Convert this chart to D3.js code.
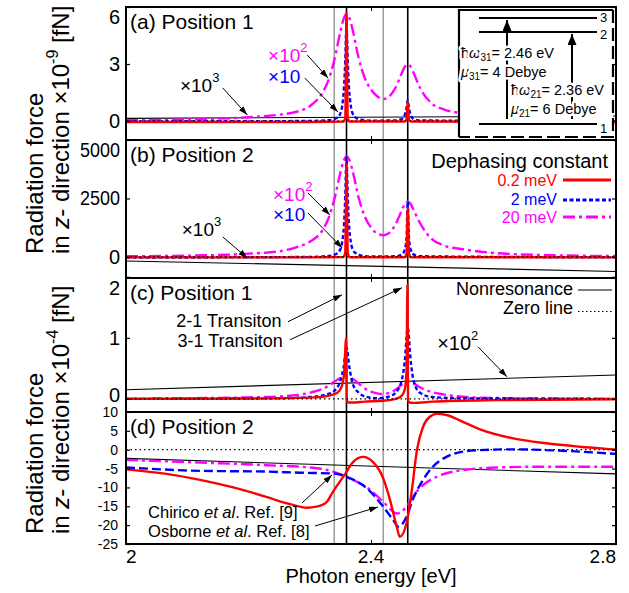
<!DOCTYPE html>
<html><head><meta charset="utf-8">
<script src="https://cdn.jsdelivr.net/npm/d3@7/dist/d3.min.js"></script>
<style>
body{margin:0;background:#fff}
text{font-family:"Liberation Sans",Arial,Helvetica,sans-serif;fill:#000}
</style></head>
<body><svg id="c" width="629" height="593"></svg>
<script>
// ---------- data ----------
const energyTicks = [2, 2.4, 2.8];
const transitionLines = [2.36, 2.46];
const grayLines = [2.34, 2.42];

// panel (a) Position 1  (x1e-9 fN)
const aTicks = [0, 3, 6];
const aRed = [[2.0,-0.05],[2.3,-0.05],[2.355,-0.03],[2.358,0.15],[2.36,5.7],[2.362,0.15],[2.365,-0.03],[2.455,-0.03],[2.458,0.1],[2.46,1.0],[2.462,0.1],[2.465,-0.03],[2.8,-0.05]];
const aBlue = [[2.0,-0.02],[2.3,0.0],[2.33,0.04],[2.34,0.1],[2.345,0.18],[2.35,0.4],[2.353,0.8],[2.356,1.8],[2.358,3.2],[2.36,5.0],[2.362,3.2],[2.364,1.8],[2.367,0.8],[2.37,0.4],[2.375,0.18],[2.38,0.1],[2.40,0.02],[2.44,0.03],[2.45,0.1],[2.455,0.3],[2.458,0.7],[2.46,1.1],[2.462,0.7],[2.465,0.3],[2.47,0.1],[2.48,0.03],[2.8,-0.02]];
const aMagenta = [[2.0,0.04],[2.1,0.08],[2.2,0.2],[2.25,0.33],[2.28,0.5],[2.30,0.78],[2.32,1.45],[2.33,2.1],[2.34,3.2],[2.35,4.7],[2.355,5.35],[2.36,5.65],[2.365,5.4],[2.37,4.8],[2.38,3.3],[2.39,2.25],[2.40,1.65],[2.41,1.3],[2.42,1.15],[2.43,1.3],[2.44,1.75],[2.45,2.5],[2.455,2.85],[2.46,2.98],[2.465,2.85],[2.47,2.5],[2.48,1.75],[2.50,0.9],[2.52,0.6],[2.55,0.4],[2.6,0.2],[2.7,0.08],[2.8,0.04]];
const aNonres = [[2.0,0.14],[2.8,0.26]];

// panel (b) Position 2
const bTicks = [0, 2500, 5000];
const bRed = [[2.0,-20],[2.3,-20],[2.355,0],[2.358,200],[2.36,4000],[2.362,200],[2.365,-10],[2.455,-10],[2.458,150],[2.46,2100],[2.462,150],[2.465,-10],[2.8,-20]];
const bBlue = [[2.0,-30],[2.3,0],[2.33,40],[2.34,90],[2.345,160],[2.35,330],[2.353,650],[2.356,1400],[2.358,2600],[2.36,4250],[2.362,2600],[2.364,1400],[2.367,650],[2.37,330],[2.375,160],[2.38,90],[2.40,20],[2.44,30],[2.45,100],[2.455,300],[2.458,800],[2.46,2350],[2.462,800],[2.465,300],[2.47,100],[2.48,30],[2.8,-20]];
const bMagenta = [[2.0,30],[2.1,55],[2.2,140],[2.25,240],[2.28,430],[2.30,650],[2.32,1110],[2.33,1610],[2.34,2450],[2.35,3600],[2.355,4090],[2.36,4300],[2.365,4130],[2.37,3670],[2.38,2520],[2.39,1720],[2.40,1260],[2.41,1000],[2.42,930],[2.43,1030],[2.44,1390],[2.45,1980],[2.455,2260],[2.46,2360],[2.465,2260],[2.47,1980],[2.48,1450],[2.50,750],[2.52,480],[2.55,330],[2.6,170],[2.7,70],[2.8,40]];
const bNonres = [[2.0,-170],[2.8,-620]];

// panel (c) Position 1  (x1e-4 fN)
const cTicks = [0, 1, 2];
const cRed = [[2.0,0.0],[2.2,0.005],[2.3,0.02],[2.33,0.05],[2.345,0.1],[2.352,0.2],[2.356,0.4],[2.3595,1.0],[2.3605,-0.02],[2.363,-0.06],[2.37,-0.06],[2.39,-0.045],[2.42,-0.03],[2.44,0.0],[2.45,0.05],[2.455,0.15],[2.458,0.45],[2.4595,1.87],[2.4605,-0.02],[2.463,-0.06],[2.47,-0.065],[2.5,-0.045],[2.6,-0.02],[2.8,-0.005]];
const cBlue = [[2.0,0.0],[2.25,0.01],[2.3,0.03],[2.33,0.08],[2.34,0.13],[2.35,0.3],[2.355,0.5],[2.36,0.84],[2.365,0.5],[2.37,0.25],[2.38,0.1],[2.39,0.04],[2.41,0.01],[2.43,0.04],[2.44,0.1],[2.45,0.3],[2.455,0.6],[2.46,1.16],[2.465,0.6],[2.47,0.28],[2.48,0.1],[2.5,0.03],[2.55,0.01],[2.8,0.0]];
const cMagenta = [[2.0,0.0],[2.1,0.01],[2.2,0.025],[2.25,0.04],[2.28,0.065],[2.30,0.1],[2.32,0.16],[2.33,0.21],[2.34,0.28],[2.35,0.34],[2.36,0.36],[2.37,0.33],[2.38,0.25],[2.39,0.17],[2.40,0.12],[2.41,0.09],[2.42,0.08],[2.43,0.1],[2.44,0.15],[2.45,0.23],[2.46,0.27],[2.47,0.25],[2.48,0.19],[2.50,0.11],[2.52,0.07],[2.55,0.035],[2.6,0.015],[2.7,0.005],[2.8,0.0]];
const cNonres = [[2.0,0.15],[2.8,0.39]];

// panel (d) Position 2
const dTicks = [-25, -20, -15, -10, -5, 0, 5, 10];
const dRed = [[2.0,-5.2],[2.066,-6.4],[2.121,-8.0],[2.175,-10.0],[2.229,-12.5],[2.262,-14.2],[2.284,-15.1],[2.295,-15.4],[2.311,-15.1],[2.328,-13.8],[2.338,-11.1],[2.349,-8.5],[2.358,-6.4],[2.371,-3.2],[2.387,-1.9],[2.403,-3.2],[2.42,-7.6],[2.431,-13.3],[2.442,-20.4],[2.447,-23.1],[2.458,-19.5],[2.466,-11.6],[2.475,-0.1],[2.485,6.1],[2.496,8.75],[2.507,9.5],[2.523,9.2],[2.55,7.4],[2.578,5.4],[2.632,3.0],[2.686,1.7],[2.741,0.8],[2.796,0.1],[2.8,0.05]];
const dBlue = [[2.0,-4.7],[2.121,-5.6],[2.229,-5.8],[2.284,-6.1],[2.338,-6.3],[2.366,-7.6],[2.393,-10.2],[2.42,-15.1],[2.436,-18.6],[2.445,-20.4],[2.458,-17.8],[2.468,-13.3],[2.485,-8.0],[2.501,-4.5],[2.523,-1.9],[2.55,-0.5],[2.578,-0.1],[2.632,0.1],[2.686,-0.1],[2.741,-0.5],[2.8,-1.1]];
const dMagenta = [[2.0,-2.7],[2.121,-3.4],[2.229,-4.1],[2.311,-4.9],[2.338,-5.8],[2.366,-7.6],[2.393,-10.0],[2.42,-13.8],[2.436,-16.4],[2.442,-16.9],[2.458,-15.1],[2.468,-12.5],[2.485,-9.4],[2.507,-7.2],[2.55,-5.4],[2.605,-4.7],[2.686,-4.5],[2.8,-4.5]];
const dNonres = [[2.0,-2.3],[2.8,-6.4]];

const zeroLine = [[2.0,0],[2.8,0]];
const dephasing = ["0.2 meV", "2 meV", "20 meV"];

// ---------- drawing ----------
const svg = d3.select("#c");
const L = 126, R = 616;
const x = d3.scaleLinear().domain([2, 2.8]).range([L, R]);
const defs = svg.append("defs");
function marker(id, w, h) {
  defs.append("marker").attr("id", id).attr("viewBox", "0 0 10 10")
    .attr("refX", 10).attr("refY", 5).attr("markerWidth", w).attr("markerHeight", h)
    .attr("markerUnits", "userSpaceOnUse").attr("orient", "auto")
    .attr("preserveAspectRatio", "none")
    .append("path").attr("d", "M0,0L10,5L0,10z").attr("fill", "#000");
}
marker("ah", 9, 6);
marker("ah2", 11, 9);

const RED = "#ff0000", BLUE = "#0000ff", MAG = "#ff00ff";
const panels = [
  {id:"a", top:7, bottom:140, domain:[-1,6], ticks:aTicks, label:"(a) Position 1", red:aRed, blue:aBlue, mag:aMagenta, nonres:aNonres, fs:20, pad:6, blueDash:"4,2.5"},
  {id:"b", top:140, bottom:278, domain:[-900,5000], ticks:bTicks, label:"(b) Position 2", red:bRed, blue:bBlue, mag:bMagenta, nonres:bNonres, fs:20, pad:6, blueDash:"4,2.5"},
  {id:"c", top:278, bottom:412, domain:[-0.215,1.98], ticks:cTicks, label:"(c) Position 1", red:cRed, blue:cBlue, mag:cMagenta, nonres:cNonres, fs:20, pad:6, blueDash:"4,2.5"},
  {id:"d", top:412, bottom:544, domain:[-25,10], ticks:dTicks, label:"(d) Position 2", red:dRed, blue:dBlue, mag:dMagenta, nonres:dNonres, fs:14, pad:8, blueDash:"9,4"}
];

panels.forEach(p => {
  p.y = d3.scaleLinear().domain(p.domain).range([p.bottom, p.top]);
  defs.append("clipPath").attr("id", "clip" + p.id).append("rect")
    .attr("x", L).attr("y", p.top).attr("width", R - L).attr("height", p.bottom - p.top);
});

// vertical guide lines
const vg = svg.append("g");
grayLines.forEach(e => vg.append("line").attr("x1", x(e)).attr("x2", x(e)).attr("y1", 7).attr("y2", 544)
  .attr("stroke", "#a0a0a0").attr("stroke-width", 1.6));
transitionLines.forEach(e => vg.append("line").attr("x1", x(e)).attr("x2", x(e)).attr("y1", 7).attr("y2", 544)
  .attr("stroke", "#000").attr("stroke-width", 1.6));

panels.forEach(p => {
  const g = svg.append("g").attr("clip-path", `url(#clip${p.id})`);
  const line = d3.line().x(d => x(d[0])).y(d => p.y(d[1])).curve(d3.curveMonotoneX);
  g.append("path").attr("d", line(p.nonres)).attr("fill", "none").attr("stroke", "#000").attr("stroke-width", 1.1);
  g.append("path").attr("d", line(p.mag)).attr("fill", "none").attr("stroke", MAG).attr("stroke-width", 2.4).attr("stroke-dasharray", "12,4,3,4");
  g.append("path").attr("d", line(p.blue)).attr("fill", "none").attr("stroke", BLUE).attr("stroke-width", 2.4).attr("stroke-dasharray", p.blueDash);
  g.append("path").attr("d", line(p.red)).attr("fill", "none").attr("stroke", RED).attr("stroke-width", 2.4);
  g.append("path").attr("d", line(zeroLine)).attr("fill", "none").attr("stroke", "#000").attr("stroke-width", 1.2).attr("stroke-dasharray", "1.5,3");

  // axes
  const ax = svg.append("g").attr("transform", `translate(${L},0)`)
    .call(d3.axisLeft(p.y).tickValues(p.ticks).tickSize(-4).tickPadding(p.pad).tickFormat(d3.format("d")));
  ax.select(".domain").remove();
  ax.selectAll("line").attr("stroke", "#000").attr("stroke-width", 1.2);
  ax.selectAll("text").attr("font-size", p.fs).attr("font-family", '"Liberation Sans",Arial,sans-serif')
    .text(d => d < 0 ? "-" + Math.abs(d) : d);
  if (p.id !== "d") {
    const maxT = d3.max(p.ticks);
    ax.selectAll(".tick").filter(d => d === maxT).select("text").attr("y", p.top + 10 - p.y(maxT));
    ax.selectAll(".tick").filter(d => d >= 1000).select("text").attr("textLength", 40).attr("lengthAdjust", "spacingAndGlyphs");
  }
  if (p.id === "c") ax.selectAll(".tick").filter(d => d === 0).select("text").attr("y", -4);
  const axr = svg.append("g").attr("transform", `translate(${R},0)`)
    .call(d3.axisRight(p.y).tickValues(p.ticks).tickSize(-4).tickFormat(""));
  axr.select(".domain").remove();
  axr.selectAll("line").attr("stroke", "#000").attr("stroke-width", 1.2);
  const axt = svg.append("g").attr("transform", `translate(0,${p.top})`)
    .call(d3.axisTop(x).tickValues([2.4]).tickSize(-4).tickFormat(""));
  axt.select(".domain").remove();
  const axb = svg.append("g").attr("transform", `translate(0,${p.bottom})`)
    .call(d3.axisBottom(x).tickValues([2.4]).tickSize(-4).tickFormat(""));
  axb.select(".domain").remove();

  svg.append("text").attr("x", 130).attr("y", p.top + 22).attr("font-size", 21).text(p.label);
  // separators
  svg.append("line").attr("x1", L).attr("x2", R).attr("y1", p.bottom).attr("y2", p.bottom).attr("stroke", "#000").attr("stroke-width", 2);
});

// outer frame
svg.append("rect").attr("x", L).attr("y", 7).attr("width", R - L).attr("height", 544 - 7)
  .attr("fill", "none").attr("stroke", "#000").attr("stroke-width", 2);

// bottom x labels
const xl = svg.append("g");
energyTicks.forEach((e, i) => {
  xl.append("text").attr("x", x(e)).attr("y", 563).attr("font-size", 19)
    .attr("text-anchor", i === 0 ? "start" : (i === energyTicks.length - 1 ? "end" : "middle"))
    .text(e === 2 ? "2" : e.toFixed(1));
});
svg.append("text").attr("x", 371).attr("y", 583).attr("font-size", 20).attr("text-anchor", "middle").text("Photon energy [eV]");

// y titles
function ytitle(yStart, exp) {
  svg.append("text").attr("transform", `translate(43,${yStart}) rotate(-90)`).attr("font-size", 24).text("Radiation force");
  const t = svg.append("text").attr("transform", `translate(69,${yStart}) rotate(-90)`).attr("font-size", 24);
  t.append("tspan").text("in ");
  t.append("tspan").attr("font-style", "italic").text("z");
  t.append("tspan").text("- direction ×10");
  t.append("tspan").attr("font-size", 16).attr("dy", -11).text(exp);
  t.append("tspan").attr("dy", 11).text(" [fN]");
}
ytitle(254, "-9");
ytitle(534, "-4");

// annotation helpers (data coordinates)
function arrow(p, e1, v1, e2, v2, id) {
  svg.append("line").attr("x1", x(e1)).attr("y1", p.y(v1)).attr("x2", x(e2)).attr("y2", p.y(v2))
    .attr("stroke", "#000").attr("stroke-width", 1).attr("marker-end", `url(#${id || "ah"})`);
}
function times(p, e, v, color, base, exp, fs) {
  const t = svg.append("text").attr("x", x(e)).attr("y", p.y(v)).attr("font-size", fs || 19).style("fill", color);
  t.append("tspan").text("×" + base);
  if (exp) t.append("tspan").attr("font-size", 13).attr("dy", -10).text(exp);
}
const [pa, pb, pc, pd] = panels;
// (a)
times(pa, 2.232, 3.1, MAG, "10", "2");
times(pa, 2.232, 2.0, BLUE, "10", null);
times(pa, 2.088, 1.53, "#000", "10", "3");
arrow(pa, 2.296, 3.47, 2.330, 2.26);
arrow(pa, 2.292, 2.26, 2.346, 0.47);
arrow(pa, 2.158, 1.74, 2.198, 0.32);
// (b)
times(pb, 2.24, 2394, MAG, "10", "2");
times(pb, 2.24, 1539, BLUE, "10", null);
times(pb, 2.091, 898, "#000", "10", "3");
arrow(pb, 2.297, 2736, 2.333, 1796);
arrow(pb, 2.297, 1881, 2.353, 385);
arrow(pb, 2.158, 855, 2.198, -43);
// legend (b)
svg.append("text").attr("x", 608).attr("y", 168).attr("font-size", 20).attr("text-anchor", "end").text("Dephasing constant");
const legStyles = [[RED, null, 186, 180], [BLUE, "4,2.5", 204.5, 200], [MAG, "12,4,3,4", 223, 217]];
legStyles.forEach((s, i) => {
  svg.append("text").attr("x", 557).attr("y", s[2]).attr("font-size", 16).attr("text-anchor", "end").style("fill", s[0]).text(dephasing[i]);
  const l = svg.append("line").attr("x1", 563).attr("x2", 611).attr("y1", s[3]).attr("y2", s[3]).attr("stroke", s[0]).attr("stroke-width", 3);
  if (s[1]) l.attr("stroke-dasharray", s[1]);
});
// (c)
svg.append("text").attr("x", x(2.168)).attr("y", pc.y(1.18)).attr("font-size", 18).attr("text-anchor", "middle").text("2-1 Transiton");
svg.append("text").attr("x", x(2.170)).attr("y", pc.y(0.853)).attr("font-size", 18).attr("text-anchor", "middle").text("3-1 Transiton");
arrow(pc, 2.2645, 1.263, 2.3527, 1.705);
arrow(pc, 2.2678, 0.968, 2.4506, 1.82);
times(pc, 2.508, 0.80, "#000", "10", "2", 20);
arrow(pc, 2.5747, 0.853, 2.622, 0.362);
svg.append("text").attr("x", 573).attr("y", 295).attr("font-size", 18).attr("text-anchor", "end").text("Nonresonance");
svg.append("line").attr("x1", 578).attr("x2", 612).attr("y1", 290).attr("y2", 290).attr("stroke", "#000").attr("stroke-width", 1.1);
svg.append("text").attr("x", 573).attr("y", 314).attr("font-size", 18).attr("text-anchor", "end").text("Zero line");
svg.append("line").attr("x1", 578).attr("x2", 612).attr("y1", 311.5).attr("y2", 311.5).attr("stroke", "#000").attr("stroke-width", 1.2).attr("stroke-dasharray", "1.5,2.5");
// (d)
function refText(e, v, name, ref) {
  const t = svg.append("text").attr("x", x(e)).attr("y", pd.y(v)).attr("font-size", 16.5);
  t.append("tspan").text(name + " ");
  t.append("tspan").attr("font-style", "italic").text("et al");
  t.append("tspan").text(". Ref. " + ref);
}
refText(2.036, -18.2, "Chirico", "[9]");
refText(2.036, -23.2, "Osborne", "[8]");
arrow(pd, 2.2873, -14.13, 2.3363, -6.71);
arrow(pd, 2.3086, -20.23, 2.4114, -15.19);

// ---------- inset (energy level diagram) ----------
const ins = svg.append("g");
ins.append("rect").attr("x", 459).attr("y", 10).attr("width", 154).attr("height", 127).attr("fill", "#fff");
ins.append("path").attr("d", "M459,137V10H613").attr("fill", "none").attr("stroke", "#000").attr("stroke-width", 2.2);
ins.append("path").attr("d", "M613,10V137H459").attr("fill", "none").attr("stroke", "#000").attr("stroke-width", 2.2).attr("stroke-dasharray", "13,5");
const levels = [["3", 18, 22], ["2", 32, 38.5], ["1", 124, 133]];
levels.forEach(l => {
  ins.append("line").attr("x1", 479).attr("x2", 597).attr("y1", l[1]).attr("y2", l[1]).attr("stroke", "#000").attr("stroke-width", 2.2);
  ins.append("text").attr("x", 600).attr("y", l[2]).attr("font-size", 13).text(l[0]);
});
ins.append("line").attr("x1", 507).attr("x2", 507).attr("y1", 119).attr("y2", 20).attr("stroke", "#000").attr("stroke-width", 2).attr("marker-end", "url(#ah2)");
ins.append("line").attr("x1", 572).attr("x2", 572).attr("y1", 119).attr("y2", 34).attr("stroke", "#000").attr("stroke-width", 2).attr("marker-end", "url(#ah2)");
function lvlText(xp, yp, sym, sub, rest, symPrefix) {
  const t = ins.append("text").attr("x", xp).attr("y", yp).attr("font-size", 14.5)
    .attr("stroke", "#fff").attr("stroke-width", 5).attr("paint-order", "stroke").attr("stroke-linejoin", "round");
  if (symPrefix) t.append("tspan").text(symPrefix);
  t.append("tspan").attr("font-style", "italic").text(sym);
  t.append("tspan").attr("font-size", 10).attr("dy", 3).text(sub);
  t.append("tspan").attr("dy", -3).text(rest);
}
lvlText(461, 58, "ω", "31", "= 2.46 eV", "ħ");
lvlText(461, 77, "μ", "31", "= 4 Debye");
lvlText(511, 95, "ω", "21", "= 2.36 eV", "ħ");
lvlText(511, 114, "μ", "21", "= 6 Debye");
</script></body></html>
